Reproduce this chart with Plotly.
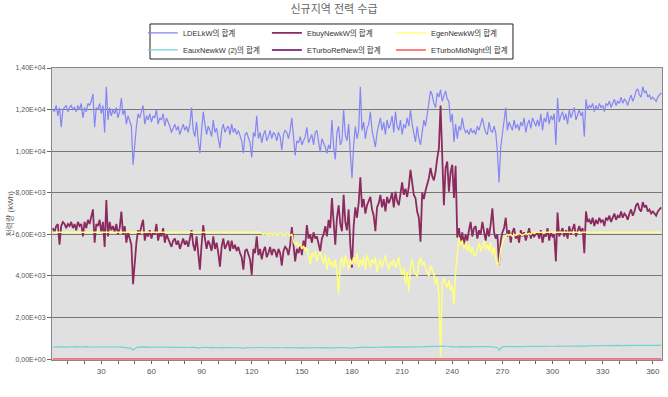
import plotly.graph_objects as go

days = list(range(1, 366))

lde_kw = [
    12000, 11900, 12200, 11700, 12100, 11150, 12000, 12100, 12200, 11900,
    12100, 12200, 12000, 12100, 11900, 12200, 12000, 12300, 11600, 12100,
    11900, 12300, 12200, 12400, 12750, 11150, 12100, 12000, 12300, 11800,
    12200, 10900, 13100, 11500, 12100, 11700, 12000, 11800, 12100, 11600,
    11900, 12550, 11750, 12000, 11300, 11700, 11400, 11200, 9350, 10450,
    11200, 11800, 11600, 11900, 12200, 11300, 11700, 11500, 11800, 11400,
    11700, 11600, 12000, 11300, 11600, 11500, 11800, 11200, 11600, 11400,
    11200, 10900, 11100, 11300, 11000, 11200, 10800, 11100, 11300, 11000,
    11200, 10900, 11300, 12100, 11000, 10700, 11400, 10500, 9900, 11000,
    11900, 11300, 10800, 11200, 11000, 10700, 11500, 10900, 11100, 10600,
    10150, 11000, 11300, 10900, 11100, 11200, 10800, 11300, 10900, 11100,
    10800, 11000, 10700, 10500, 9900, 10800, 10900, 10600, 10400, 9700,
    10900, 10700, 11700, 10600, 10900, 10400, 10800, 11000, 10500, 10700,
    11000, 10600, 10900, 10800, 10500, 10900, 10700, 10050, 10800, 11000,
    10900, 10600, 11000, 11600, 10800, 9800, 10500, 10400, 10700, 10300,
    10500, 10700, 11150, 10400, 10600, 10800, 10300, 10900, 11000, 10500,
    9950, 10600, 10400, 10200, 9900, 10300, 10100, 11500, 10200, 9600,
    10900, 11200, 10300, 10500, 12000, 10800, 10500, 11300, 9900, 8700,
    10300, 11200, 10600, 11000, 13100, 11000, 11400, 10600, 11100, 11300,
    11900, 11000, 10600, 10200, 10900, 11200, 11600, 11000, 11400, 10800,
    11500, 11100, 11300, 11700, 10900, 11900, 11200, 11000, 11500, 10800,
    11300, 11100, 11600, 11200, 12000, 11300, 10800, 10450, 11200, 10600,
    10300, 11000, 11500, 11200, 11800, 12500, 12900, 12700, 12300, 12100,
    12800, 12600, 12950, 12400, 12700, 12900, 12500, 12400, 11400, 11800,
    10450, 11300, 10600, 11200, 11000, 11600, 11100, 10900, 11000, 10800,
    11100, 10900, 11000, 10800, 11200, 11000, 11300, 11600, 11200, 10900,
    10800, 11400, 11000, 10900, 11200, 10900, 10000, 8500, 10200, 10900,
    11300, 12100, 11000, 11400, 11200, 11000, 11500, 11100, 11300, 11000,
    11400, 11200, 11600, 10900, 11300, 11500, 11100, 11600, 11400, 11200,
    11500, 11200, 11800, 11000, 11600, 11400, 11900, 11300, 11700, 11500,
    11800, 10300, 12550, 11400, 11700, 11900, 11500, 11800, 11300, 12000,
    11600, 11900, 12100, 11500, 11800, 12000, 11700, 11900, 10700, 12500,
    12000, 12200, 12100, 12300, 11900, 12200, 12000, 12300, 12100, 12200,
    11900, 12300, 12200, 12400, 12100, 12300, 12500, 12200, 12400, 12300,
    12600, 12300, 12500, 12400, 12200, 12500, 12700, 12400, 12600, 12900,
    13000, 12700, 12600, 13100, 12800, 12900, 12600, 12700, 12500, 12600,
    12500, 12400, 12600, 12700, 12800,
]

ebuy_new_kw = [
    6300, 6100, 6400, 6500, 5500, 6400, 6600, 6500, 6300, 6500,
    6400, 6600, 6300, 6500, 6200, 6600, 6400, 6500, 5900, 6600,
    6300, 6700, 6500, 6800, 7200, 5600, 6500, 6400, 6700, 6100,
    6600, 5400, 7650, 5900, 6600, 6200, 6400, 6100, 6500, 6000,
    6300, 7100, 6000, 6400, 5600, 6100, 5800, 5500, 3600, 4700,
    5600, 6200, 6000, 6400, 6700, 5700, 6100, 5900, 6200, 5800,
    6100, 6000, 6500, 5700, 6100, 5900, 6300, 5600, 6000, 5800,
    5600, 5400, 5700, 5800, 5500, 5700, 5300, 5600, 5800, 5500,
    5700, 5400, 5800, 6200, 5500, 5200, 5900, 4900, 4300, 5500,
    6450, 5800, 5300, 5700, 5500, 5200, 5900, 5300, 5600, 5100,
    4450, 5400, 5800, 5300, 5500, 5700, 5200, 5700, 5300, 5500,
    5200, 5400, 5100, 4900, 4300, 5200, 5300, 5000, 4800, 4050,
    5300, 5100, 5900, 5000, 5300, 4800, 5200, 5400, 4900, 5100,
    5400, 5000, 5300, 5200, 4900, 5300, 5100, 4500, 5200, 5400,
    5300, 5000, 5500, 6350, 5600, 4700, 5300, 5100, 5500, 5000,
    5700, 5400, 6450, 5800, 6000, 5600, 6100, 5800, 5900, 5500,
    5200, 5800, 6000, 6400, 5900, 6700, 6300, 7750, 6600, 5500,
    6800, 7400, 6500, 6150, 7900, 6600, 6200, 7200, 5500, 4400,
    6400, 7300, 6800, 7500, 8750, 7300, 7700, 7000, 7400, 7600,
    7800, 7200, 6900, 6150, 7300, 7500, 7900, 7300, 7700, 7100,
    7800, 7500, 7700, 8000, 7300, 8050, 7600, 7400, 8000, 8500,
    7900, 8200, 7800, 8300, 9100, 8400, 7900, 7750, 7100, 6800,
    5650, 8000, 7700, 8100, 8400, 8700, 9200, 8800, 8600, 9000,
    9650, 10150, 12200, 9950, 7400, 9200, 9500, 8050, 9000, 9350,
    7750, 9300, 5850, 6300, 5600, 6100, 5500, 6000, 5700, 6200,
    6600, 5900, 6300, 6400, 5800, 6200, 6000, 6600, 6100, 5700,
    6300, 5900, 6500, 7250, 6100, 5800, 6000, 4550, 5700, 6100,
    6300, 6800, 5900, 6200, 5600, 6100, 6300, 5800, 6000, 5600,
    6200, 5900, 6100, 5700, 6000, 6300, 5800, 6100, 5900, 6000,
    6100, 5800, 6200, 5600, 6000, 5900, 6300, 5700, 6100, 5900,
    6000, 4700, 7050, 5900, 6100, 6300, 5900, 6200, 5800, 6400,
    6000, 6300, 6500, 5900, 6200, 6400, 6100, 6300, 5100, 7100,
    6600, 6700, 6500, 6800, 6400, 6700, 6500, 6800, 6600, 6700,
    6400, 6800, 6700, 6900, 6600, 6800, 7000, 6700, 6900, 6800,
    7100, 6800, 7000, 6900, 6700, 7000, 7200, 6900, 7100, 7400,
    7500, 7200, 7100, 7550, 7300, 7400, 7100, 7200, 7000, 7100,
    7000, 6900, 7100, 7200, 7300,
]

egen_new_kw = [
    6100, 6100, 6100, 6100, 6100, 6100, 6100, 6100, 6100, 6100,
    6100, 6100, 6100, 6100, 6100, 6100, 6100, 6100, 6100, 6100,
    6100, 6100, 6100, 6100, 6100, 6100, 6100, 6100, 6100, 6100,
    6100, 6100, 6100, 6100, 6100, 6100, 6100, 6100, 6100, 6100,
    6100, 6100, 6100, 6100, 6100, 6100, 6100, 6100, 6100, 6100,
    6100, 6100, 6100, 6100, 6100, 6100, 6100, 6100, 6100, 6100,
    6100, 6100, 6100, 6100, 6100, 6100, 6100, 6100, 6100, 6100,
    6100, 6100, 6100, 6100, 6100, 6100, 6100, 6100, 6100, 6100,
    6100, 6100, 6100, 6100, 6100, 6100, 6100, 6100, 6100, 6100,
    6100, 6100, 6100, 6100, 6100, 6100, 6100, 6100, 6100, 6100,
    6100, 6100, 6100, 6100, 6100, 6100, 6100, 6100, 6100, 6100,
    6100, 6100, 6100, 6100, 6100, 6100, 6100, 6100, 6100, 6100,
    6100, 6100, 6100, 6100, 6100, 6050, 6000, 6050, 6000, 5950,
    6050, 6000, 6000, 6050, 5950, 6000, 6050, 6000, 6000, 5950,
    6050, 6000, 5950, 6000, 5650, 5500, 5600, 5400, 5550, 5300,
    5450, 5200, 5350, 5000, 4550, 5100, 4900, 5200, 4700, 5000,
    5150, 4800, 4600, 5000, 4300, 4900, 4500, 4700, 4400, 4800,
    4200, 3100, 4600, 4900, 4400, 5000, 4700, 4300, 4800, 4550,
    4900, 4600, 5100, 4400, 4800, 4500, 4900, 4300, 5000, 4700,
    4400, 4800, 4600, 4900, 4200, 4500, 4800, 4400, 4700, 5000,
    4600, 4300, 4700, 4500, 4800, 4400, 4600, 4900, 4300, 4050,
    4400, 3600, 4200, 3250, 4500, 4800, 4300, 4100, 3950, 4600,
    4900, 4500, 4700, 4400, 4200, 4000, 4500, 4300, 4100, 3600,
    3900, 3100, 100, 3700, 3900, 3600, 3450, 3800, 3300, 3550,
    2650, 4200, 5150, 5850, 5500, 5700, 5300, 5600, 5200, 5500,
    5100, 5400, 5000, 5000, 5300, 5600, 5200, 5400, 5700, 5300,
    5500, 5200, 5600, 5000, 5400, 4800, 4550, 4600, 5300, 5600,
    5800, 5900, 6000, 5950, 6000, 5900, 6000, 5950, 6000, 6050,
    6000, 5950, 6000, 6050, 6000, 6050, 6000, 6100, 6050, 6100,
    6100, 6100, 6100, 6100, 6100, 6100, 6100, 6100, 6100, 6100,
    6100, 6100, 6100, 6100, 6100, 6100, 6100, 6100, 6100, 6100,
    6100, 6100, 6100, 6100, 6100, 6100, 6100, 6100, 6100, 6100,
    6100, 6100, 6100, 6100, 6100, 6100, 6100, 6100, 6100, 6100,
    6100, 6100, 6100, 6100, 6100, 6100, 6100, 6100, 6100, 6100,
    6100, 6100, 6100, 6100, 6100, 6100, 6100, 6100, 6100, 6100,
    6100, 6100, 6100, 6100, 6100, 6100, 6100, 6100, 6100, 6100,
    6100, 6100, 6100, 6100, 6100,
]

eaux_new_kw = [
    580, 590, 585, 600, 575, 590, 595, 580, 600, 590,
    585, 595, 600, 580, 590, 600, 585, 595, 590, 580,
    600, 590, 585, 595, 580, 600, 590, 585, 595, 590,
    580, 595, 590, 600, 585, 590, 580, 595, 590, 585,
    590, 580, 595, 585, 570, 575, 560, 520, 430, 500,
    560, 580, 585, 590, 580, 585, 590, 575, 585, 580,
    590, 585, 580, 590, 575, 585, 580, 590, 575, 580,
    570, 560, 575, 565, 570, 560, 575, 565, 570, 560,
    565, 570, 560, 575, 565, 555, 570, 560, 530, 560,
    570, 560, 565, 555, 570, 560, 565, 550, 560, 555,
    540, 560, 565, 555, 560, 550, 565, 555, 560, 550,
    555, 560, 550, 545, 520, 555, 560, 550, 545, 530,
    555, 560, 565, 550, 560, 545, 555, 560, 550, 555,
    560, 550, 555, 560, 545, 555, 550, 540, 555, 560,
    555, 550, 560, 565, 550, 530, 550, 545, 555, 550,
    555, 560, 550, 555, 545, 560, 550, 555, 560, 550,
    540, 555, 550, 545, 540, 550, 555, 560, 550, 540,
    555, 560, 550, 545, 560, 555, 550, 560, 540, 520,
    550, 560, 555, 565, 580, 570, 575, 565, 570, 575,
    580, 575, 570, 560, 575, 580, 585, 575, 580, 570,
    585, 580, 575, 590, 580, 585, 590, 580, 585, 595,
    590, 585, 595, 580, 600, 595, 590, 585, 590, 580,
    570, 590, 595, 600, 605, 610, 620, 615, 610, 620,
    625, 630, 650, 640, 630, 620, 625, 615, 610, 605,
    580, 600, 590, 600, 595, 605, 600, 595, 600, 605,
    600, 595, 605, 600, 610, 600, 605, 610, 600, 595,
    600, 605, 600, 610, 595, 590, 560, 430, 540, 590,
    600, 610, 605, 600, 610, 605, 600, 610, 605, 600,
    610, 605, 615, 600, 610, 615, 605, 610, 620, 615,
    610, 620, 615, 610, 620, 615, 620, 610, 615, 620,
    620, 600, 625, 620, 615, 625, 620, 630, 625, 620,
    630, 625, 635, 630, 625, 635, 630, 640, 620, 640,
    635, 640, 645, 640, 635, 645, 650, 640, 645, 650,
    645, 650, 655, 650, 645, 655, 660, 650, 655, 660,
    655, 660, 665, 660, 655, 665, 660, 670, 665, 660,
    670, 665, 675, 670, 665, 670, 675, 670, 665, 670,
    675, 670, 665, 670, 675,
]

eturbo_ref_new = [0] * len(days)
eturbo_midnight = [0] * len(days)

assert len(lde_kw) == 365, len(lde_kw)
assert len(ebuy_new_kw) == 365, len(ebuy_new_kw)
assert len(egen_new_kw) == 365, len(egen_new_kw)
assert len(eaux_new_kw) == 365, len(eaux_new_kw)

series_names = ["LDELkW의 합계", "EbuyNewkW의 합계", "EgenNewkW의 합계",
                "EauxNewkW (2)의 합계", "ETurboRefNew의 합계", "ETurboMidNight의 합계"]

y_tick_values = [0, 2000, 4000, 6000, 8000, 10000, 12000, 14000]
y_tick_labels = ["0,00E+00", "2,00E+03", "4,00E+03", "6,00E+03",
                 "8,00E+03", "1,00E+04", "1,20E+04", "1,40E+04"]
x_tick_labels = ["30", "60", "90", "120", "150", "180", "210", "240",
                 "270", "300", "330", "360"]

x_tickvals = list(range(10, 370, 10))
x_ticktext = [str(v) if str(v) in x_tick_labels else "" for v in x_tickvals]

FONT = "Liberation Sans, Arial, Noto Sans CJK KR, sans-serif"

fig = go.Figure()
styles = [
    (lde_kw, "#8585F5", 1.2, "legend"),
    (ebuy_new_kw, "#8B2A5E", 1.8, "legend"),
    (egen_new_kw, "#FFFF80", 1.5, "legend"),
    (eaux_new_kw, "#6FD3D3", 1.2, "legend2"),
    (eturbo_ref_new, "#660066", 1.5, "legend2"),
    (eturbo_midnight, "#FF8080", 2.0, "legend2"),
]
for name, (vals, color, w, lg) in zip(series_names, styles):
    fig.add_trace(go.Scatter(x=days, y=vals, mode="lines", name=name,
                             line=dict(color=color, width=w), legend=lg))

legend_common = dict(orientation="h", xanchor="left", yanchor="middle",
                     borderwidth=0, bgcolor="rgba(0,0,0,0)",
                     font=dict(size=7.5, color="#333"), entrywidth=79,
                     itemwidth=30, tracegroupgap=0)

fig.update_layout(
    width=668, height=397,
    margin=dict(l=52, r=6, t=68, b=37),
    paper_bgcolor="white",
    plot_bgcolor="#E0E0E0",
    font=dict(family=FONT, size=8, color="#444"),
    title=dict(text="신규지역 전력 수급", x=0.5, xanchor="center",
               y=0.977, yanchor="middle", yref="container",
               font=dict(size=11, color="#666", family=FONT)),
    legend=dict(x=0.149, y=1.12, **legend_common),
    legend2=dict(x=0.149, y=1.062, **legend_common),
    showlegend=True,
    shapes=[dict(type="rect", xref="paper", yref="paper",
                 x0=0.1607, x1=0.7557, y0=1.0308, y1=1.1507,
                 line=dict(color="#222", width=1), fillcolor="white",
                 layer="below")],
)
fig.update_xaxes(range=[0.5, 365.5], tickvals=x_tickvals, ticktext=x_ticktext,
                 ticks="outside", ticklen=3, tickcolor="#666",
                 showgrid=False, zeroline=False, showline=True, linecolor="#888",
                 mirror=True, tickfont=dict(size=8, color="#555"))
fig.update_yaxes(range=[-40, 14000], tickvals=y_tick_values, ticktext=y_tick_labels,
                 ticks="outside", ticklen=4, tickcolor="#666",
                 showgrid=True, gridcolor="#777", gridwidth=1.3, zeroline=False,
                 showline=True, linecolor="#888", mirror=True,
                 tickfont=dict(size=7, color="#555"),
                 title=dict(text="전력량 (kWh)", font=dict(size=8, color="#555"),
                            standoff=0))

fig.write_html("out.html")
